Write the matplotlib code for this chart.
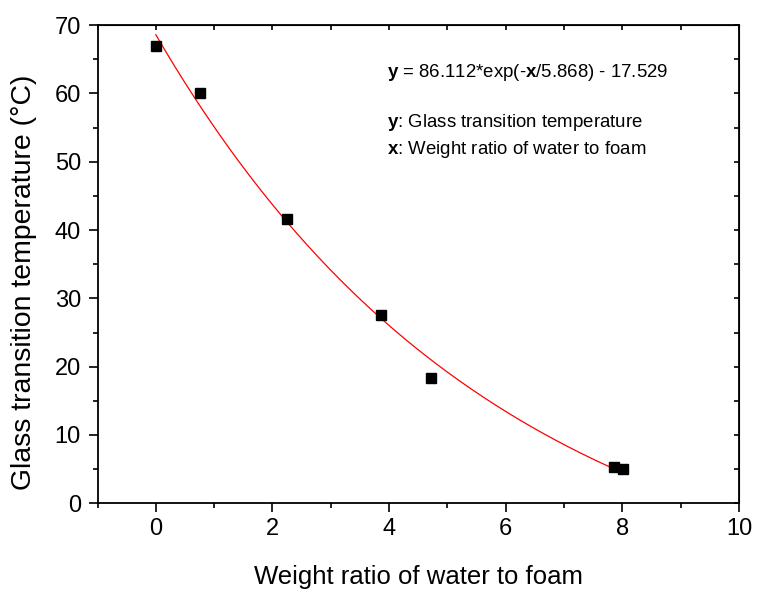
import numpy as np
import matplotlib
matplotlib.use("Agg")
import matplotlib.pyplot as plt

# Data
water_ratio = [0.0, 0.75, 2.25, 3.86, 4.72, 7.86, 8.01]
tg_values = [67.0, 60.0, 41.6, 27.6, 18.3, 5.3, 5.0]

# Fit parameters shown in the chart
fit_a, fit_t, fit_c = 86.112, 5.868, -17.529
fit_range = (0.0, 8.03)

x_ticks = [0, 2, 4, 6, 8, 10]
y_ticks = [0, 10, 20, 30, 40, 50, 60, 70]

plt.rcParams['font.family'] = ['Liberation Sans', 'DejaVu Sans']
plt.rcParams['mathtext.fontset'] = 'custom'
plt.rcParams['mathtext.rm'] = 'Liberation Sans'
plt.rcParams['mathtext.bf'] = 'Liberation Sans:bold'

fig = plt.figure(figsize=(7.57, 5.90), dpi=100)
ax = fig.add_axes([0.1288, 0.1469, 0.9762 - 0.1288, 0.9576 - 0.1469])

xf = np.linspace(fit_range[0], fit_range[1], 300)
yf = fit_a * np.exp(-xf / fit_t) + fit_c
ax.plot(xf, yf, color='red', lw=0.9, zorder=2)
ax.plot(water_ratio, tg_values, 's', color='black', ms=7.2, zorder=3)

ax.set_xlim(-1, 10)
ax.set_ylim(0, 70)
ax.set_xticks(x_ticks)
ax.set_yticks(y_ticks)
ax.set_xticks(np.arange(-1, 10.5, 1), minor=True)
ax.set_yticks(np.arange(0, 71, 5), minor=True)

for s in ax.spines.values():
    s.set_linewidth(1.3)

ax.tick_params(which='major', direction='out', length=6.5, width=1.2, labelsize=17)
ax.tick_params(axis='x', which='major', pad=4)
ax.tick_params(axis='y', which='major', pad=5.4)
ax.tick_params(which='minor', direction='out', length=3.5, width=1.2)

top = ax.secondary_xaxis('top')
top.set_xticks(np.arange(-1, 10.5, 1))
top.tick_params(direction='in', length=3.5, width=1.2, labeltop=False)
right = ax.secondary_yaxis('right')
right.set_yticks(np.arange(0, 71, 5))
right.tick_params(direction='in', length=3.5, width=1.2, labelright=False)

ax.set_xlabel('Weight ratio of water to foam', fontsize=18.5, va='center')
ax.xaxis.set_label_coords(0.5, -0.155)
ax.set_ylabel('Glass transition temperature (°C)', fontsize=20.4,
              va='center', ha='center', rotation_mode='default')
ax.yaxis.set_label_coords(-0.1146, 0.463)

ax.text(3.96, 63.0, r'$\mathbf{y}$ = 86.112*exp(-$\mathbf{x}$/5.868) - 17.529',
        fontsize=13.4, va='center', ha='left')
ax.text(3.96, 55.7, r'$\mathbf{y}$: Glass transition temperature',
        fontsize=13.4, va='center', ha='left')
ax.text(3.96, 51.8, r'$\mathbf{x}$: Weight ratio of water to foam',
        fontsize=13.4, va='center', ha='left')

fig.savefig('out.png', dpi=100)
